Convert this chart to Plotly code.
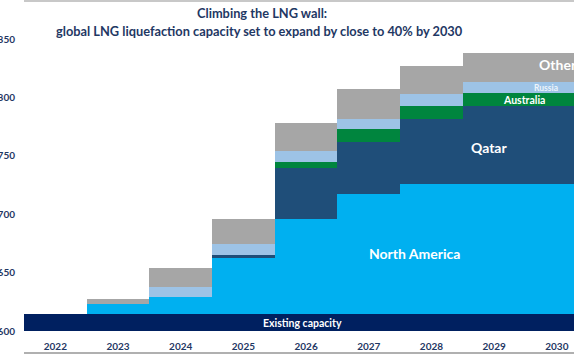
import plotly.graph_objects as go

years = ["2022", "2023", "2024", "2025", "2026", "2027", "2028", "2029", "2030"]
existing = [614.5, 614.5, 614.5, 614.5, 614.5, 614.5, 614.5, 614.5, 614.5]
north_america = [0, 8.7, 14.3, 47.6, 81.3, 102.4, 111.3, 111.3, 111.3]
qatar = [0, 0, 0, 2.9, 43.9, 45.1, 55.9, 67.2, 67.2]
australia = [0, 0, 0, 0, 5.2, 10.8, 10.8, 10.9, 10.9]
russia = [0, 0, 8.5, 9.1, 9.1, 8.4, 10.3, 8.9, 8.9]
other = [0, 4.3, 16.8, 21.4, 23.7, 25.7, 24.2, 25.4, 25.4]

series = [
    ("Existing capacity", existing, "#002060"),
    ("North America", north_america, "#00b0f0"),
    ("Qatar", qatar, "#1f4e79"),
    ("Australia", australia, "#00853e"),
    ("Russia", russia, "#9dc3e6"),
    ("Other", other, "#a6a6a6"),
]

NAVY = "#1f3864"
FONT = "Lato"

fig = go.Figure()
for name, vals, col in series:
    fig.add_trace(go.Bar(x=years, y=vals, name=name, marker=dict(color=col, line=dict(width=0)),
                         hoverinfo="skip"))

W, H = 574, 355
L, B = 24.4, 24
px_per_cat = 62.64
y_per_px = 1.168

def xd(px):
    return (px - L) / px_per_cat - 0.5

def yd(py):
    return 600 + (331 - py) / y_per_px

labels = [
    ("Existing capacity", 303, 323, 10.5, "white"),
    ("North America", 415, 253, 14, "white"),
    ("Qatar", 489, 147, 14, "white"),
    ("Australia", 524, 100, 10.5, "white"),
    ("Russia", 546, 88, 8.5, "#eef5fb"),
]
anns = []
for t, x, y, s, c in labels:
    anns.append(dict(text="<b>%s</b>" % t, x=xd(x), y=yd(y), xref="x", yref="y",
                     showarrow=False, font=dict(family=FONT, size=s, color=c)))
anns.append(dict(text="<b>Others</b>", x=xd(537), y=yd(64), xref="x", yref="y", xanchor="left",
                 showarrow=False, font=dict(family=FONT, size=14, color="white")))
anns.append(dict(text="<b>Climbing the LNG wall:</b>", x=xd(262), y=yd(13), xref="x", yref="y",
                 showarrow=False, font=dict(family=FONT, size=12.8, color=NAVY)))
anns.append(dict(text="<b>global LNG liquefaction capacity set to expand by close to 40% by 2030</b>",
                 x=xd(260), y=yd(31), xref="x", yref="y",
                 showarrow=False, font=dict(family=FONT, size=12.8, color=NAVY)))

fig.update_layout(
    width=W, height=H,
    margin=dict(l=L, r=0, t=0, b=B, pad=0),
    barmode="stack", bargap=0,
    showlegend=False,
    plot_bgcolor="white", paper_bgcolor="white",
    annotations=anns,
    xaxis=dict(range=[-0.5, xd(W)], showgrid=False, zeroline=False, showline=False,
               tickfont=dict(family=FONT, size=10, color=NAVY, weight="bold"),
               automargin=False, ticks="", ticklabelstandoff=8),
    yaxis=dict(range=[600, yd(0)], tickvals=[600, 650, 700, 750, 800, 850],
               showgrid=False, zeroline=False, showline=False,
               tickfont=dict(family=FONT, size=10, color=NAVY, weight="bold"),
               automargin=False, ticks="", ticklabelstandoff=8),
    shapes=[
        dict(type="line", xref="paper", yref="paper", x0=0, x1=1, y0=(331 - 1) / 331, y1=(331 - 1) / 331,
             line=dict(color="#c8c8c8", width=2)),
        dict(type="line", xref="paper", yref="paper", x0=0, x1=1, y0=(331 - 353) / 331, y1=(331 - 353) / 331,
             line=dict(color="#b0b0b0", width=2)),
    ],
)

fig.write_html("out.html", config={"displayModeBar": False},
               post_script="document.body.style.margin='0';document.body.style.overflow='hidden';")
